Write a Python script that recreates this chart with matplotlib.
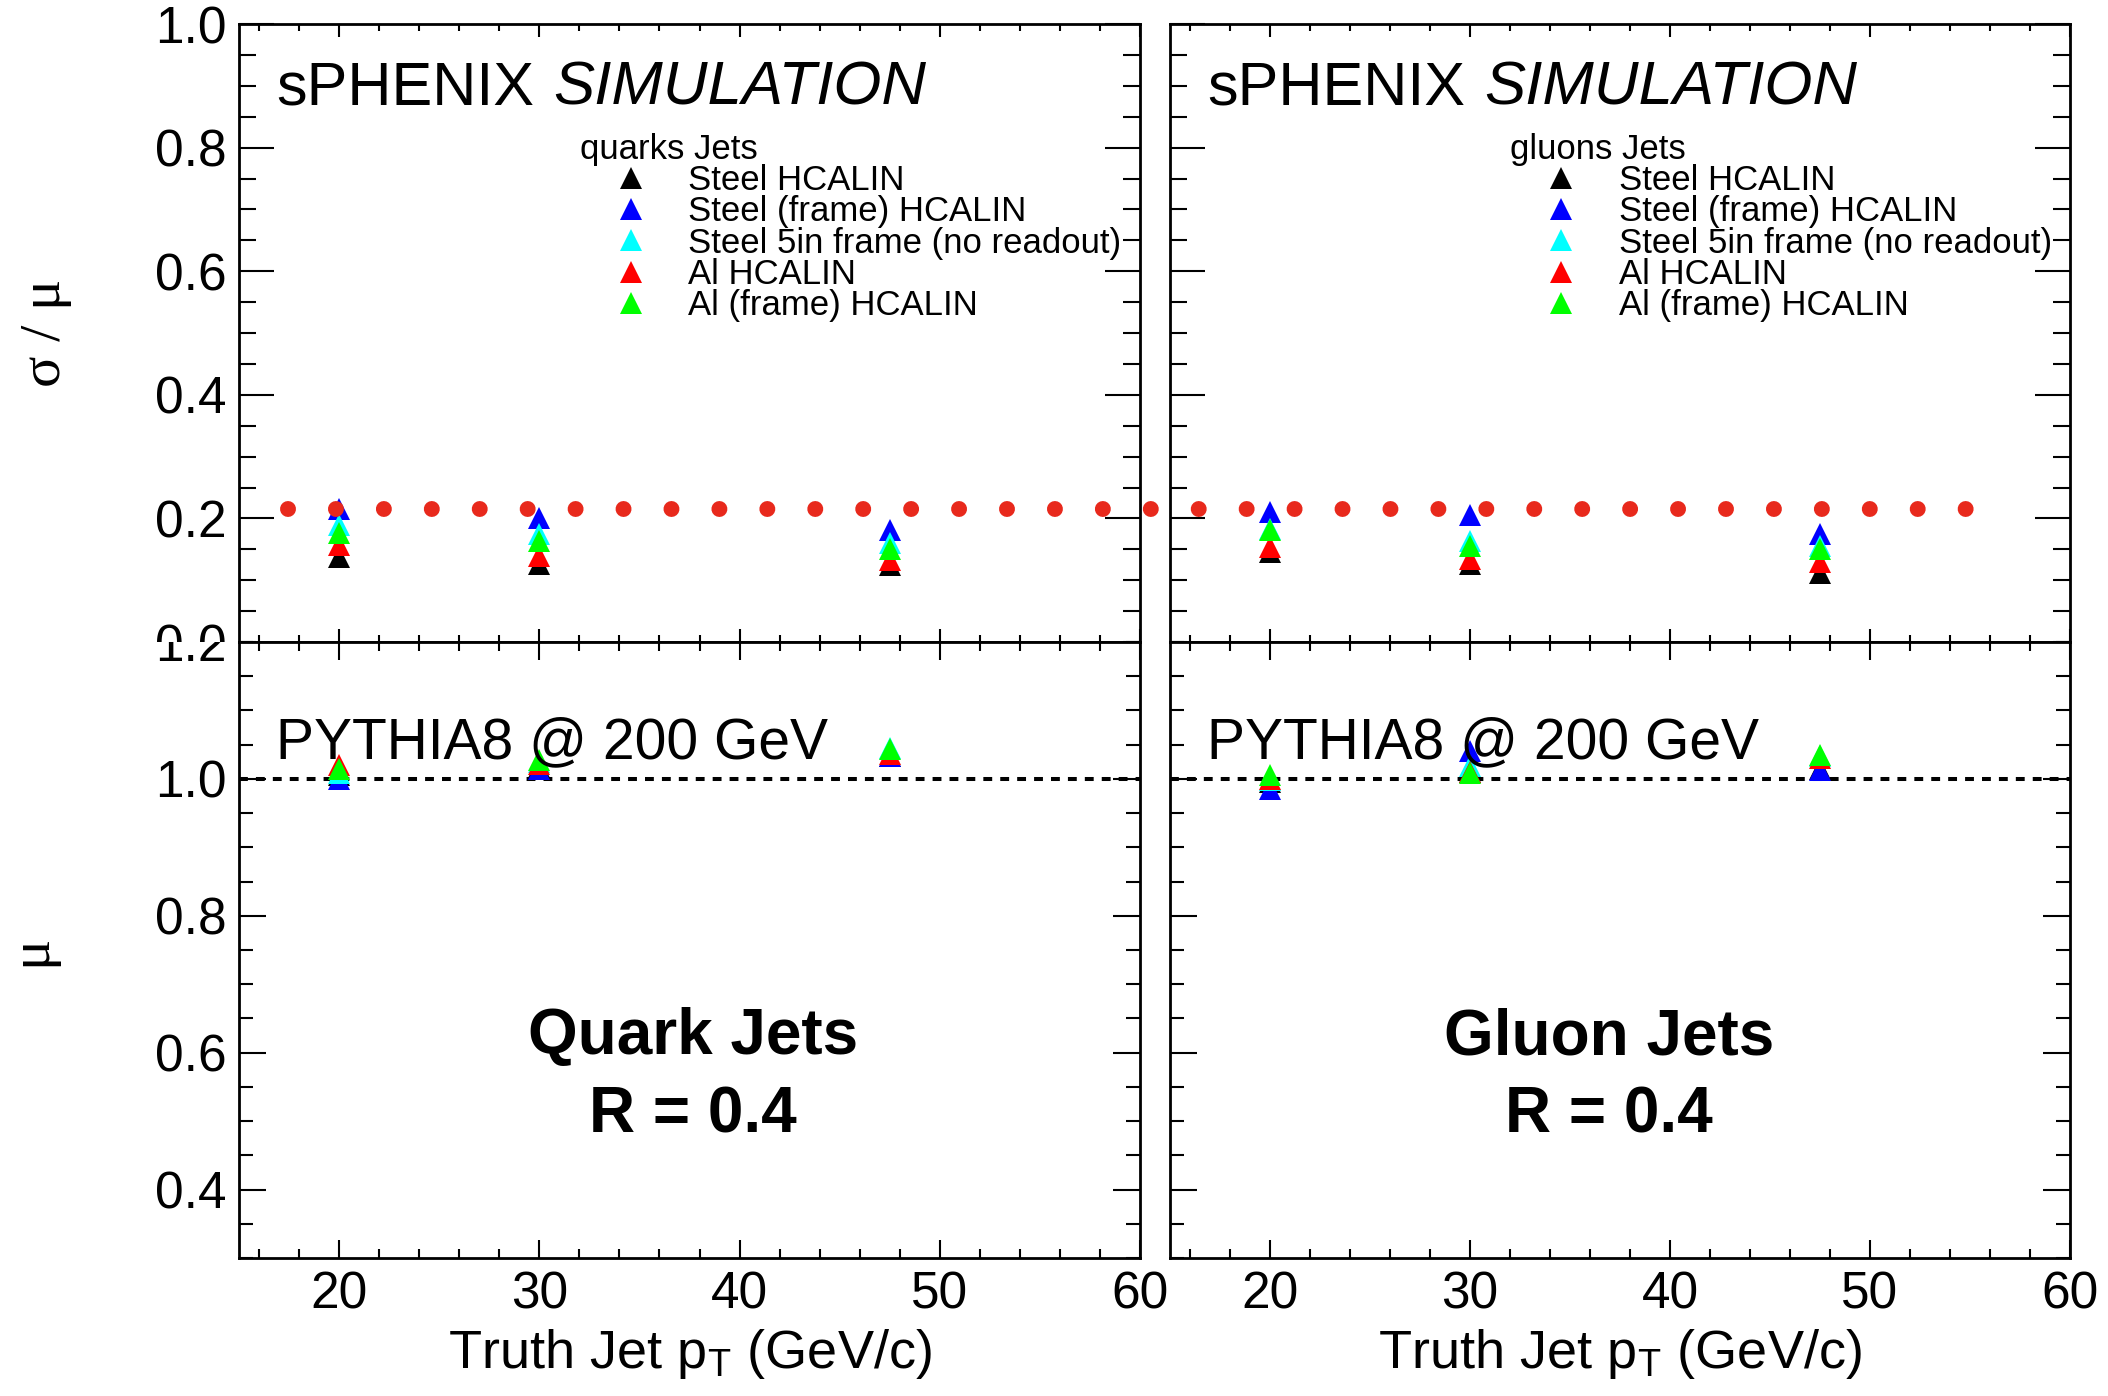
import matplotlib
matplotlib.use('Agg')
import matplotlib.pyplot as plt
from matplotlib.ticker import MultipleLocator
from matplotlib.lines import Line2D
from matplotlib.transforms import Bbox, TransformedBbox

plt.rcParams['font.family'] = ['Liberation Sans', 'DejaVu Sans']
plt.rcParams['mathtext.fontset'] = 'custom'
plt.rcParams['mathtext.rm'] = 'Liberation Sans'
plt.rcParams['mathtext.it'] = 'Liberation Sans:italic'

######## data
pt = [20, 30, 47.5]
names = ['Steel HCALIN', 'Steel (frame) HCALIN', 'Steel 5in frame (no readout)',
         'Al HCALIN', 'Al (frame) HCALIN']
colors = ['#000000', '#0000ff', '#00ffff', '#ff0000', '#00ff00']

# sigma/mu, quark jets
q_res_steel = [0.138, 0.127, 0.125]
q_res_steel_frame = [0.215, 0.201, 0.181]
q_res_steel_5in = [0.189, 0.174, 0.161]
q_res_al = [0.157, 0.139, 0.132]
q_res_al_frame = [0.177, 0.164, 0.151]

# sigma/mu, gluon jets
g_res_steel = [0.146, 0.127, 0.111]
g_res_steel_frame = [0.211, 0.205, 0.175]
g_res_steel_5in = [0.183, 0.163, 0.155]
g_res_al = [0.154, 0.135, 0.129]
g_res_al_frame = [0.182, 0.155, 0.150]

# mu, quark jets
q_mu_steel = [1.005, 1.018, 1.033]
q_mu_steel_frame = [1.000, 1.0145, 1.034]
q_mu_steel_5in = [1.008, 1.025, 1.045]
q_mu_al = [1.020, 1.022, 1.037]
q_mu_al_frame = [1.015, 1.027, 1.043]

# mu, gluon jets
g_mu_steel = [0.995, 1.010, 1.015]
g_mu_steel_frame = [0.9855, 1.041, 1.013]
g_mu_steel_5in = [0.998, 1.019, 1.033]
g_mu_al = [1.000, 1.010, 1.031]
g_mu_al_frame = [1.005, 1.008, 1.035]

# red reference level drawn across both top pads
ref_level = 0.215
ref_x = [17.45, 101.45]

res_ticks = [0.2, 0.4, 0.6, 0.8, 1.0]
res_ticklabels = ['0.2', '0.4', '0.6', '0.8', '1.0']
mu_ticks = [0.4, 0.6, 0.8, 1.0]
mu_ticklabels = ['0.4', '0.6', '0.8', '1.0']

######## figure and pads
fig = plt.figure(figsize=(21.08, 13.96), dpi=100)
ax_tl = fig.add_axes([0.11338, 0.54011, 0.42742, 0.44269])
ax_bl = fig.add_axes([0.11338, 0.09885, 0.42742, 0.44126])
ax_tr = fig.add_axes([0.55503, 0.54011, 0.42694, 0.44269])
ax_br = fig.add_axes([0.55503, 0.09885, 0.42694, 0.44126])


def style(ax, ylen, xlen):
    ax.set_xlim(15, 60)
    ax.xaxis.set_major_locator(MultipleLocator(10))
    ax.xaxis.set_minor_locator(MultipleLocator(2))
    ax.yaxis.set_minor_locator(MultipleLocator(0.05))
    ax.tick_params(which='both', direction='in', top=True, right=True,
                   width=1.5, labelsize=37, pad=9)
    ax.tick_params(axis='y', which='major', length=ylen[0])
    ax.tick_params(axis='y', which='minor', length=ylen[1])
    ax.tick_params(axis='x', which='major', length=xlen[0])
    ax.tick_params(axis='x', which='minor', length=xlen[1])
    for s in ax.spines.values():
        s.set_linewidth(2)


res_sets = [
    (ax_tl, [q_res_steel, q_res_steel_frame, q_res_steel_5in, q_res_al, q_res_al_frame], 'quarks Jets'),
    (ax_tr, [g_res_steel, g_res_steel_frame, g_res_steel_5in, g_res_al, g_res_al_frame], 'gluons Jets'),
]
mu_sets = [
    (ax_bl, [q_mu_steel, q_mu_steel_frame, q_mu_steel_5in, q_mu_al, q_mu_al_frame], 'Quark Jets'),
    (ax_br, [g_mu_steel, g_mu_steel_frame, g_mu_steel_5in, g_mu_al, g_mu_al_frame], 'Gluon Jets'),
]

######## top pads: sigma/mu
for ax, series, title in res_sets:
    style(ax, (25, 12.5), (9.5, 5))
    ax.set_ylim(0, 1.0)
    ax.set_yticks(res_ticks, labels=res_ticklabels)
    ax.tick_params(labelbottom=False)
    handles = []
    for y, c in zip(series, colors):
        h, = ax.plot(pt, y, linestyle='none', marker='^', ms=16, mew=0, color=c)
        handles.append(h)
    t1 = ax.text(0.041, 0.869, 'sPHENIX', transform=ax.transAxes, fontsize=44,
                 va='baseline')
    ax.annotate('SIMULATION', xy=(1, 0), xycoords=t1, xytext=(14, 0),
                textcoords='offset points', fontsize=44.5, style='italic', va='bottom')
    ax.legend(handles, names, title=title, loc='upper left',
              bbox_to_anchor=(0.378, 0.824), frameon=False, fontsize=25,
              title_fontsize=25, handlelength=2.95, handletextpad=0.17,
              labelspacing=-0.05, borderpad=0, borderaxespad=0,
              alignment='left', numpoints=1)

######## bottom pads: mu
for ax, series, title in mu_sets:
    style(ax, (19.7, 10), (13, 6.5))
    ax.set_ylim(0.3, 1.2)
    ax.set_yticks(mu_ticks, labels=mu_ticklabels)
    ax.axhline(1.0, color='black', lw=2.9, linestyle=(0, (2.2, 2.0)))
    for y, c in zip(series, colors):
        ax.plot(pt, y, linestyle='none', marker='^', ms=16, mew=0, color=c)
    ax.text(0.041, 0.812, 'PYTHIA8 @ 200 GeV', transform=ax.transAxes,
            fontsize=41, va='baseline')
    xc = 0.504 if ax is ax_bl else 0.488
    ax.text(xc, 0.331, title, transform=ax.transAxes, fontsize=46,
            weight='bold', ha='center', va='baseline')
    ax.text(xc, 0.2045, 'R = 0.4', transform=ax.transAxes, fontsize=46,
            weight='bold', ha='center', va='baseline')
    ax.set_xlabel('Truth Jet p$_{\\mathrm{T}}$ (GeV/c)', fontsize=39)
    ax.xaxis.set_label_coords(0.5, -0.179)
    ax.xaxis.label.set_va('baseline')

ax_tr.tick_params(labelleft=False)
ax_br.tick_params(labelleft=False)

######## overlapping labels at the pad boundary (each clipped to its pad)
tr, va, ha = ax_tl.get_yaxis_text1_transform(9)
lab0 = ax_tl.text(0, 0.0, '0.0', transform=tr, va=va, ha=ha, fontsize=37, clip_on=True)
lab0.set_clip_box(TransformedBbox(Bbox([[-1, 0], [1, 1]]), ax_tl.transAxes))
tr, va, ha = ax_bl.get_yaxis_text1_transform(9)
lab1 = ax_bl.text(0, 1.2, '1.2', transform=tr, va=va, ha=ha, fontsize=37, clip_on=True)
lab1.set_clip_box(TransformedBbox(Bbox([[-1, 0], [1, 1]]), ax_bl.transAxes))

######## axis titles
serif = ['Liberation Serif', 'DejaVu Serif']
ax_tl.set_ylabel('σ / μ', fontsize=42, family=serif)
ax_tl.yaxis.set_label_coords(-0.185, 0.5)
ax_bl.set_ylabel('μ', fontsize=42, family=serif)
ax_bl.yaxis.set_label_coords(-0.202, 0.5)

######## red dotted reference line across both pads
fig.add_artist(Line2D(ref_x, [ref_level, ref_level], transform=ax_tl.transData,
                      color='#e8291c', lw=11.5, linestyle=(0, (0.001, 3.0)),
                      dash_capstyle='round', zorder=5))

fig.savefig('out.png', dpi=100)
